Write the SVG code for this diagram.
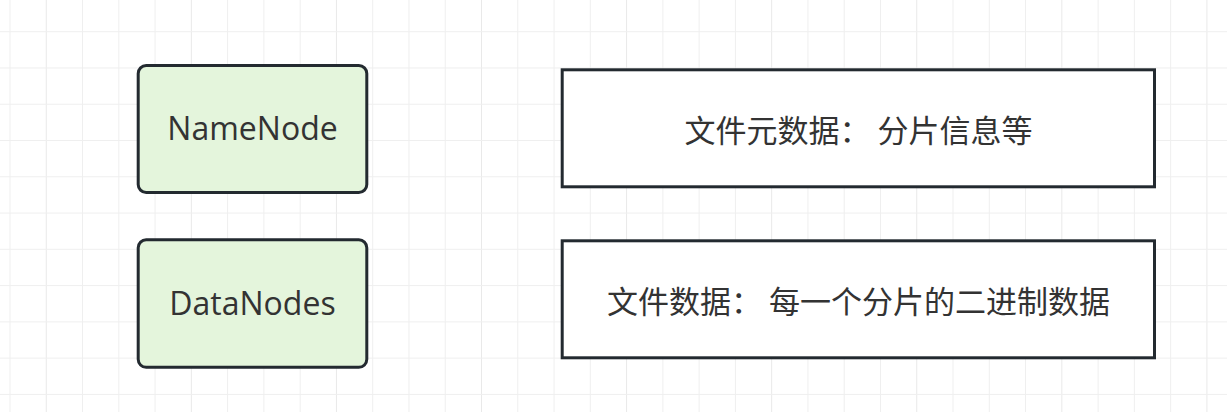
<svg xmlns="http://www.w3.org/2000/svg" width="1227" height="412" viewBox="0 0 1227 412">
<style>
.grid{stroke:#efefef;stroke-width:1;fill:none}
.gridmaj{stroke:#e9e9e9;stroke-width:1;fill:none}
.proc{fill:#e4f5dc;stroke:#232a30;stroke-width:3}
.box{fill:#ffffff;stroke:#232a30;stroke-width:3}
.en{font-family:"Open Sans","Noto Sans",sans-serif;font-size:32px;fill:#333333;text-anchor:middle}
.zh{font-family:"Noto Sans CJK SC","Noto Sans",sans-serif;font-size:31px;fill:#333333;text-anchor:middle}
</style>
<rect width="1227" height="412" fill="#ffffff"/>
<g id="grid">
<path class="grid" d="M10,0V412M82.54,0V412M118.81,0V412M155.08,0V412M227.62,0V412M263.89,0V412M300.16,0V412M372.7,0V412M408.97,0V412M445.24,0V412M517.78,0V412M554.05,0V412M590.32,0V412M662.86,0V412M699.13,0V412M735.4,0V412M807.94,0V412M844.21,0V412M880.48,0V412M953.02,0V412M989.29,0V412M1025.56,0V412M1098.1,0V412M1134.37,0V412M1170.64,0V412"/>
<path class="gridmaj" d="M46.27,0V412M191.35,0V412M336.43,0V412M481.51,0V412M626.59,0V412M771.67,0V412M916.75,0V412M1061.83,0V412M1206.91,0V412"/>
<path class="grid" d="M0,31.7H1227M0,67.97H1227M0,104.24H1227M0,140.51H1227M0,176.78H1227M0,213.05H1227M0,249.32H1227M0,285.59H1227M0,321.86H1227M0,358.13H1227M0,394.4H1227"/>
</g>
<g id="connectors"></g>
<g id="namenode">
<rect class="proc" x="138.2" y="65.5" width="228.6" height="127" rx="8" ry="8"/>
<text class="en" x="252.5" y="140">NameNode</text>
</g>
<g id="datanodes">
<rect class="proc" x="138.2" y="239.8" width="228.6" height="127.5" rx="8" ry="8"/>
<text class="en" x="252.5" y="315">DataNodes</text>
</g>
<g id="metadata">
<rect class="box" x="562.2" y="69.8" width="592.3" height="117"/>
<text class="zh" x="858.5" y="142">文件元数据： 分片信息等</text>
</g>
<g id="filedata">
<rect class="box" x="562.2" y="240.8" width="592.3" height="117"/>
<text class="zh" x="858.5" y="313">文件数据： 每一个分片的二进制数据</text>
</g>
</svg>
